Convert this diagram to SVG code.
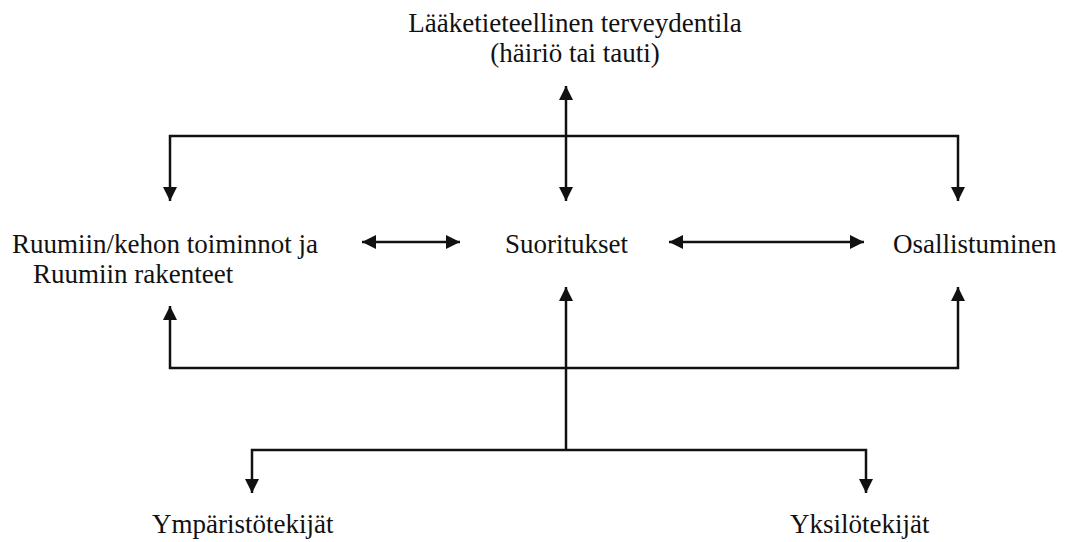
<svg xmlns="http://www.w3.org/2000/svg" width="1070" height="542" viewBox="0 0 1070 542">
<style>
text{font-family:"Liberation Serif","Times New Roman",serif;font-size:27px;fill:#111}
.ln{fill:none;stroke:#111;stroke-width:2.5}
</style>
<defs>
<marker id="ah" markerUnits="userSpaceOnUse" markerWidth="16" markerHeight="16" viewBox="0 0 16 16" refX="15" refY="8" orient="auto-start-reverse">
<path d="M1,1 L15,8 L1,15 Z" fill="#111"/>
</marker>
</defs>
<rect width="1070" height="542" fill="#fff"/>
<g id="connectors">
<polyline class="ln" points="170,201 170,136 958,136 958,201" marker-start="url(#ah)" marker-end="url(#ah)"/>
<line class="ln" x1="566" y1="86" x2="566" y2="201" marker-start="url(#ah)" marker-end="url(#ah)"/>
<line class="ln" x1="362" y1="242" x2="460" y2="242" marker-start="url(#ah)" marker-end="url(#ah)"/>
<line class="ln" x1="669" y1="242" x2="864" y2="242" marker-start="url(#ah)" marker-end="url(#ah)"/>
<polyline class="ln" points="170,306 170,368 958,368 958,287" marker-start="url(#ah)" marker-end="url(#ah)"/>
<line class="ln" x1="566" y1="450" x2="566" y2="287" marker-end="url(#ah)"/>
<polyline class="ln" points="252,493 252,450 866,450 866,493" marker-start="url(#ah)" marker-end="url(#ah)"/>
</g>
<g id="node-health">
<text x="575" y="32" text-anchor="middle">Lääketieteellinen terveydentila</text>
<text x="575" y="62" text-anchor="middle">(häiriö tai tauti)</text>
</g>
<g id="node-body">
<text x="12" y="253">Ruumiin/kehon toiminnot ja</text>
<text x="33" y="283">Ruumiin rakenteet</text>
</g>
<g id="node-activities">
<text x="505" y="253">Suoritukset</text>
</g>
<g id="node-participation">
<text x="893" y="253">Osallistuminen</text>
</g>
<g id="node-environment">
<text x="152" y="533">Ympäristötekijät</text>
</g>
<g id="node-personal">
<text x="790" y="533">Yksilötekijät</text>
</g>
</svg>
